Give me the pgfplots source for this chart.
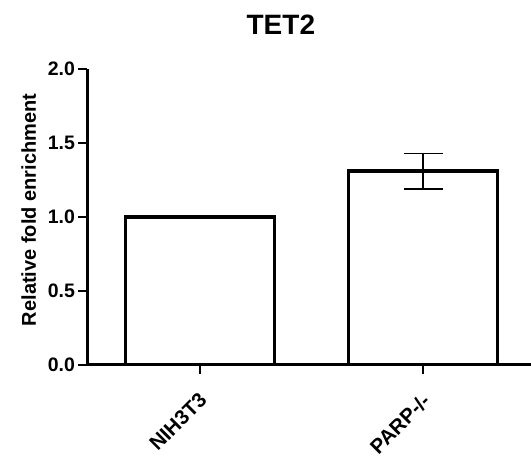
\documentclass[border=0pt]{standalone}
\usepackage{pgfplots}
\pgfplotsset{compat=1.18}
\usepackage{fontspec}
\setmainfont{Liberation Sans}
\begin{document}
\begin{tikzpicture}
\begin{axis}[
    name=ax,
    scale only axis,
    width=443.5pt, height=296pt,
    xmin=-0.504, xmax=1.484,
    ymin=0, ymax=2,
    axis lines*=left,
    axis line style={line width=3pt, black},
    tick align=outside,
    major tick length=9pt,
    tick style={line width=2.3pt, black},
    xtick={0,1},
    xticklabels={NIH3T3, PARP-/-},
    ytick={0,0.5,1,1.5,2},
    /pgf/number format/assume math mode=true,
    yticklabel style={/pgf/number format/fixed, /pgf/number format/fixed zerofill, /pgf/number format/precision=1},
    ticklabel style={font=\fontsize{19.5}{23}\selectfont\bfseries},
    xticklabel style={font=\fontsize{20.5}{24}\selectfont\bfseries, rotate=45, anchor=north east, xshift=-10.5pt, yshift=-7.5pt},
    ylabel={Relative fold enrichment},
    ylabel shift=5pt,
    ylabel style={font=\fontsize{20}{24}\selectfont\bfseries, at={(ticklabel cs:0.524)}},
    title={TET2},
    title style={font=\fontsize{28}{32}\selectfont\bfseries, at={(0.436,1)}, anchor=south, yshift=25pt},
]
\addplot[ybar, bar width=149pt, bar shift=0pt, fill=white, draw=black, line width=3.3pt]
    coordinates {(0,1.00)};
\addplot[ybar, bar width=149pt, bar shift=0pt, fill=white, draw=black, line width=3.3pt,
    error bars/.cd, y dir=both, y explicit,
    error bar style={line width=1.7pt, black},
    error mark options={rotate=90, mark size=19.5pt, line width=1.7pt, black}]
    coordinates {(1,1.31) +- (0,0.12)};
\end{axis}
\pgfresetboundingbox
\path ([shift={(-87.5pt,-94pt)}]ax.south west) rectangle ([shift={(0pt,69pt)}]ax.north east);
\end{tikzpicture}
\end{document}
